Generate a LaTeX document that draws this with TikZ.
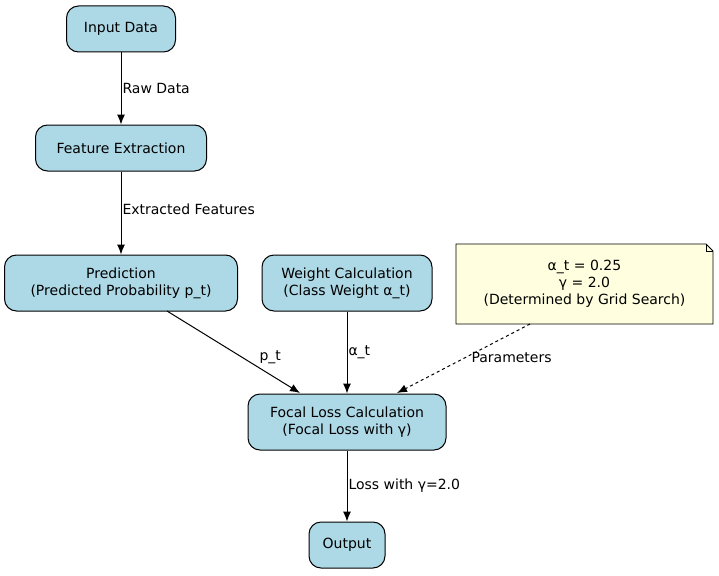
\documentclass[tikz,border=0pt]{standalone}
\usepackage{fontspec}
\setmainfont{DejaVu Sans}
\usetikzlibrary{arrows.meta,shapes.misc}
\definecolor{lb}{HTML}{ADD8E6}
\definecolor{ly}{HTML}{FFFFE0}
\begin{document}
\begin{tikzpicture}[x=1pt,y=-1pt,font=\fontsize{14}{17}\selectfont,line width=1pt,
 box/.style={draw,fill=lb,rounded corners=12pt,align=center,inner sep=0pt},
 arr/.style={-{Latex[length=10pt,width=8pt]}},
 lab/.style={anchor=west,inner sep=1pt}]
\useasboundingbox (0,0) rectangle (719,575);
\node[box,minimum width=109pt,minimum height=46pt] (in) at (121,29) {Input Data};
\node[box,minimum width=171pt,minimum height=46pt] (fe) at (121,148) {Feature Extraction};
\node[box,minimum width=233pt,minimum height=56pt] (pr) at (121,283) {Prediction\\(Predicted Probability p\_t)};
\node[box,minimum width=170pt,minimum height=56pt] (wc) at (347,283) {Weight Calculation\\(Class Weight α\_t)};
\node[box,minimum width=198pt,minimum height=56pt] (fl) at (347,422) {Focal Loss Calculation\\(Focal Loss with γ)};
\node[box,minimum width=76pt,minimum height=46pt] (out) at (347,545) {Output};
\coordinate (nt) at (584.5,284);
\fill[ly] (456,244) -- (706,244) -- (713,251) -- (713,324) -- (456,324) -- cycle;
\draw[line width=0.8pt] (456,244) -- (706,244) -- (713,251) -- (713,324) -- (456,324) -- cycle;
\draw[line width=0.8pt] (706,244) -- (706,251) -- (713,251);
\node[align=center] at (nt) {α\_t = 0.25\\γ = 2.0\\(Determined by Grid Search)};
\draw[arr] (in) -- (fe) node[lab,midway] {Raw Data};
\draw[arr] (fe) -- (pr) node[lab,pos=0.45] {Extracted Features};
\draw[arr] (167,311) -- (300,393);
\node[lab] at (258,357) {p\_t};
\draw[arr] (wc) -- (fl) node[lab,midway] {α\_t};
\draw[arr,dashed] (530,324) -- (397,393);
\node[lab] at (470,357) {Parameters};
\draw[arr] (fl) -- (out) node[lab,midway] {Loss with γ=2.0};
\end{tikzpicture}
\end{document}
